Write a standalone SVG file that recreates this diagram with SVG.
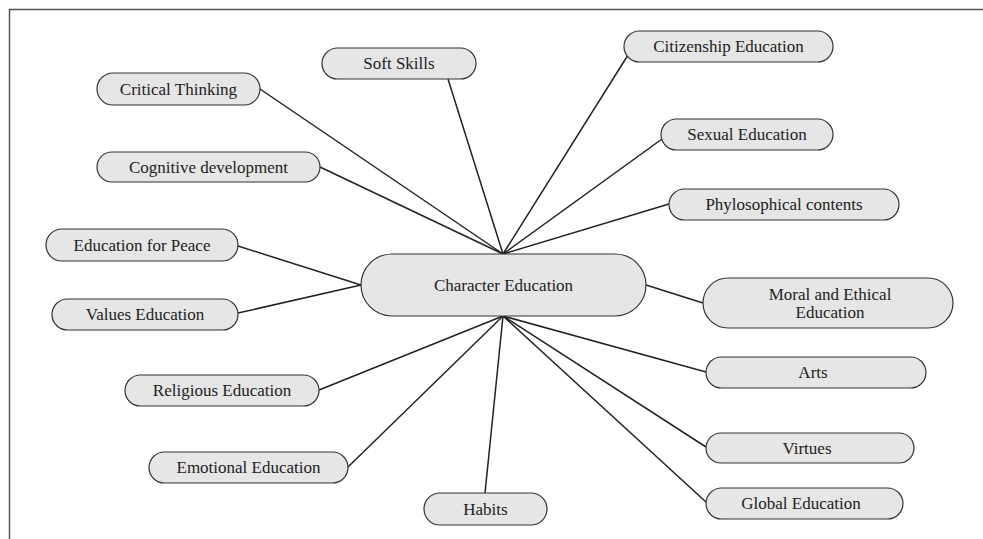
<svg xmlns="http://www.w3.org/2000/svg" width="983" height="539" viewBox="0 0 983 539">
<style>
.n{fill:#e6e6e6;stroke:#333;stroke-width:1.2}
.t{font-family:"Liberation Serif","Times New Roman",serif;font-size:17px;fill:#222;text-anchor:middle}
.c{stroke:#222;stroke-width:1.5;fill:none}
</style>
<rect width="983" height="539" fill="#fff"/>
<path d="M9.5 539V9.5H983" fill="none" stroke="#555" stroke-width="1.5"/>
<g id="connectors" class="c">
<line x1="503" y1="254" x2="448" y2="79"/>
<line x1="503" y1="254" x2="260" y2="89"/>
<line x1="503" y1="254" x2="320" y2="167"/>
<line x1="503" y1="254" x2="628" y2="55"/>
<line x1="503" y1="254" x2="662" y2="139"/>
<line x1="503" y1="254" x2="669" y2="204"/>
<line x1="361" y1="285" x2="238" y2="246"/>
<line x1="361" y1="285" x2="238" y2="313"/>
<line x1="646" y1="285" x2="703" y2="303"/>
<line x1="503" y1="316" x2="706" y2="372"/>
<line x1="503" y1="316" x2="706" y2="447"/>
<line x1="503" y1="316" x2="706" y2="502"/>
<line x1="503" y1="316" x2="485" y2="493"/>
<line x1="503" y1="316" x2="319" y2="390"/>
<line x1="503" y1="316" x2="348" y2="467"/>
</g>
<g id="center"><rect class="n" x="361" y="254" width="285" height="62" rx="31"/><text class="t" x="503.5" y="291">Character Education</text></g>
<g id="soft-skills"><rect class="n" x="322" y="48" width="154" height="31" rx="15.5"/><text class="t" x="399" y="69">Soft Skills</text></g>
<g id="critical-thinking"><rect class="n" x="97" y="73" width="163" height="32" rx="16"/><text class="t" x="178.5" y="95">Critical Thinking</text></g>
<g id="cognitive-development"><rect class="n" x="97" y="152" width="223" height="30" rx="15"/><text class="t" x="208.5" y="173">Cognitive development</text></g>
<g id="education-for-peace"><rect class="n" x="46" y="229" width="192" height="32" rx="16"/><text class="t" x="142" y="251">Education for Peace</text></g>
<g id="values-education"><rect class="n" x="52" y="299" width="186" height="31" rx="15.5"/><text class="t" x="145" y="320">Values Education</text></g>
<g id="religious-education"><rect class="n" x="125" y="375" width="194" height="31" rx="15.5"/><text class="t" x="222" y="396">Religious Education</text></g>
<g id="emotional-education"><rect class="n" x="149" y="452" width="199" height="31" rx="15.5"/><text class="t" x="248.5" y="473">Emotional Education</text></g>
<g id="habits"><rect class="n" x="424" y="493" width="123" height="32" rx="16"/><text class="t" x="485.5" y="515">Habits</text></g>
<g id="citizenship-education"><rect class="n" x="624" y="31" width="209" height="31" rx="15.5"/><text class="t" x="728.5" y="52">Citizenship Education</text></g>
<g id="sexual-education"><rect class="n" x="661" y="119" width="172" height="31" rx="15.5"/><text class="t" x="747" y="140">Sexual Education</text></g>
<g id="phylosophical-contents"><rect class="n" x="669" y="189" width="230" height="31" rx="15.5"/><text class="t" x="784" y="210">Phylosophical contents</text></g>
<g id="moral-ethical"><rect class="n" x="703" y="278" width="250" height="50" rx="25"/><text class="t" x="830" y="300">Moral and Ethical</text><text class="t" x="830" y="318">Education</text></g>
<g id="arts"><rect class="n" x="706" y="357" width="220" height="31" rx="15.5"/><text class="t" x="813" y="378">Arts</text></g>
<g id="virtues"><rect class="n" x="706" y="433" width="208" height="30" rx="15"/><text class="t" x="807" y="454">Virtues</text></g>
<g id="global-education"><rect class="n" x="706" y="488" width="197" height="31" rx="15.5"/><text class="t" x="801" y="509">Global Education</text></g>
</svg>
